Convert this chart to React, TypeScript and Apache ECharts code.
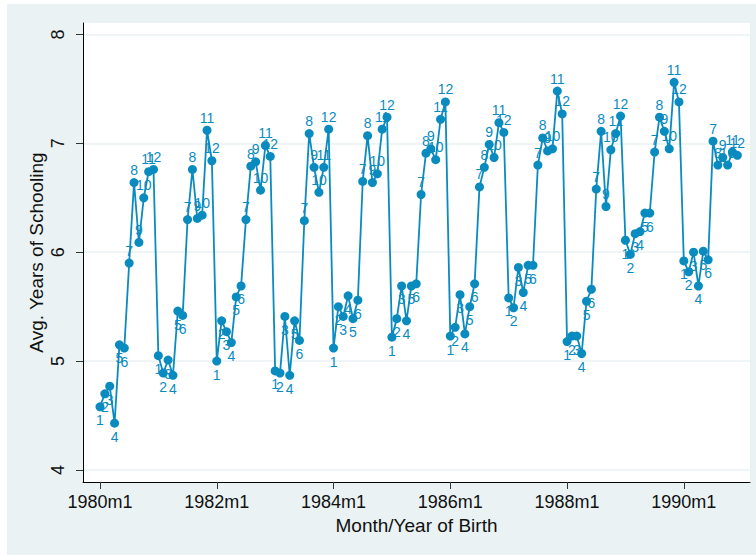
import React, { useEffect, useRef } from "react";
import * as echarts from "echarts";

// Average years of schooling by month of birth, 1980m1 .. 1990m12
const y1980 = [4.58, 4.70, 4.77, 4.43, 5.15, 5.12, 5.90, 6.64, 6.09, 6.50, 6.74, 6.76];
const y1981 = [5.05, 4.89, 5.01, 4.87, 5.46, 5.42, 6.30, 6.76, 6.31, 6.34, 7.12, 6.84];
const y1982 = [5.00, 5.37, 5.27, 5.17, 5.59, 5.69, 6.30, 6.79, 6.83, 6.57, 6.98, 6.88];
const y1983 = [4.91, 4.89, 5.41, 4.87, 5.37, 5.19, 6.29, 7.09, 6.78, 6.55, 6.78, 7.13];
const y1984 = [5.12, 5.50, 5.41, 5.60, 5.39, 5.56, 6.65, 7.07, 6.64, 6.72, 7.13, 7.24];
const y1985 = [5.22, 5.39, 5.69, 5.37, 5.69, 5.71, 6.53, 6.91, 6.95, 6.85, 7.22, 7.38];
const y1986 = [5.23, 5.31, 5.61, 5.25, 5.50, 5.71, 6.60, 6.78, 6.99, 6.87, 7.19, 7.10];
const y1987 = [5.58, 5.49, 5.86, 5.63, 5.88, 5.88, 6.80, 7.05, 6.93, 6.95, 7.48, 7.27];
const y1988 = [5.18, 5.23, 5.23, 5.07, 5.55, 5.66, 6.58, 7.11, 6.42, 6.94, 7.09, 7.25];
const y1989 = [6.11, 5.98, 6.17, 6.19, 6.36, 6.36, 6.92, 7.24, 7.11, 6.95, 7.56, 7.38];
const y1990 = [5.92, 5.82, 6.00, 5.69, 6.01, 5.93, 7.02, 6.80, 6.87, 6.80, 6.92, 6.89];

const years = [y1980, y1981, y1982, y1983, y1984, y1985, y1986, y1987, y1988, y1989, y1990];
const monthLabels = ["1", "2", "3", "4", "5", "6", "7", "8", "9", "10", "11", "12"];

const xTickValues = [0, 24, 48, 72, 96, 120];
const xTickLabels = ["1980m1", "1982m1", "1984m1", "1986m1", "1988m1", "1990m1"];
const yTickValues = [4, 5, 6, 7, 8];

const BLUE = "#0a8bbf";
const BG = "#eaf2f3";
const FONT = "'Liberation Sans', Arial, sans-serif";

export default function App() {
  const ref = useRef<HTMLDivElement>(null);

  useEffect(() => {
    if (!ref.current) return;
    const chart = echarts.init(ref.current, null, { renderer: "svg" });

    const values: number[] = [];
    years.forEach((arr) => arr.forEach((v) => values.push(v)));
    const data = values.map((v, i) => ({
      value: [i, v],
      label: {
        position: i % 12 < 6 ? "bottom" : "top",
        distance: i % 12 < 6 ? 2 : 1,
      },
    }));

    const option: any = {
      animation: false,
      backgroundColor: BG,
      graphic: [
        { type: "rect", shape: { x: 0, y: 0, width: 7, height: 555 }, style: { fill: "#ffffff" }, silent: true },
        { type: "rect", shape: { x: 0, y: 0, width: 756, height: 4 }, style: { fill: "#ffffff" }, silent: true },
      ],
      grid: {
        left: 83,
        right: 6,
        top: 23,
        bottom: 73,
        show: true,
        backgroundColor: "#ffffff",
        borderWidth: 0,
        containLabel: false,
        outerBoundsMode: "none",
      },
      xAxis: {
        type: "value",
        min: -3.49,
        max: 133.6,
        name: "Month/Year of Birth",
        nameLocation: "middle",
        nameGap: 30,
        nameTextStyle: { fontFamily: FONT, fontSize: 19, color: "#111" },
        axisLine: { show: true, onZero: false, lineStyle: { color: "#000", width: 1 } },
        axisTick: {
          show: true,
          length: 7,
          customValues: xTickValues,
          lineStyle: { color: "#333", width: 1 },
        },
        axisLabel: {
          show: true,
          margin: 11,
          fontFamily: FONT,
          fontSize: 18,
          color: "#111",
          customValues: xTickValues,
          formatter: (v: number) => {
            const k = xTickValues.indexOf(Math.round(v));
            return k >= 0 ? xTickLabels[k] : "";
          },
        },
        splitLine: { show: false },
      },
      yAxis: {
        type: "value",
        min: 3.89,
        max: 8.105,
        name: "Avg. Years of Schooling",
        nameLocation: "middle",
        nameRotate: 90,
        nameGap: 37,
        nameMoveOverlap: false,
        nameTextStyle: { fontFamily: FONT, fontSize: 19, color: "#111" },
        axisLine: { show: true, onZero: false, lineStyle: { color: "#000", width: 1 } },
        axisTick: {
          show: true,
          length: 7,
          customValues: yTickValues,
          lineStyle: { color: "#333", width: 1 },
        },
        axisLabel: {
          show: true,
          rotate: 90,
          margin: 16,
          fontFamily: FONT,
          fontSize: 18,
          color: "#111",
          customValues: yTickValues,
          formatter: (v: number) => String(Math.round(v)),
        },
        splitLine: { show: true, lineStyle: { color: BG, width: 1.5 } },
      },
      series: [
        {
          type: "line",
          data,
          symbol: "circle",
          symbolSize: 9,
          showAllSymbol: true,
          itemStyle: { color: BLUE },
          lineStyle: { color: BLUE, width: 1.8 },
          label: {
            show: true,
            fontFamily: FONT,
            fontSize: 14,
            color: BLUE,
            formatter: (p: any) => monthLabels[p.dataIndex % 12],
          },
          z: 3,
        },
      ],
    };

    chart.setOption(option);
    return () => chart.dispose();
  }, []);

  return (
    <div
      ref={ref}
      style={{ position: "absolute", left: 0, top: 0, width: 756, height: 555 }}
    />
  );
}
